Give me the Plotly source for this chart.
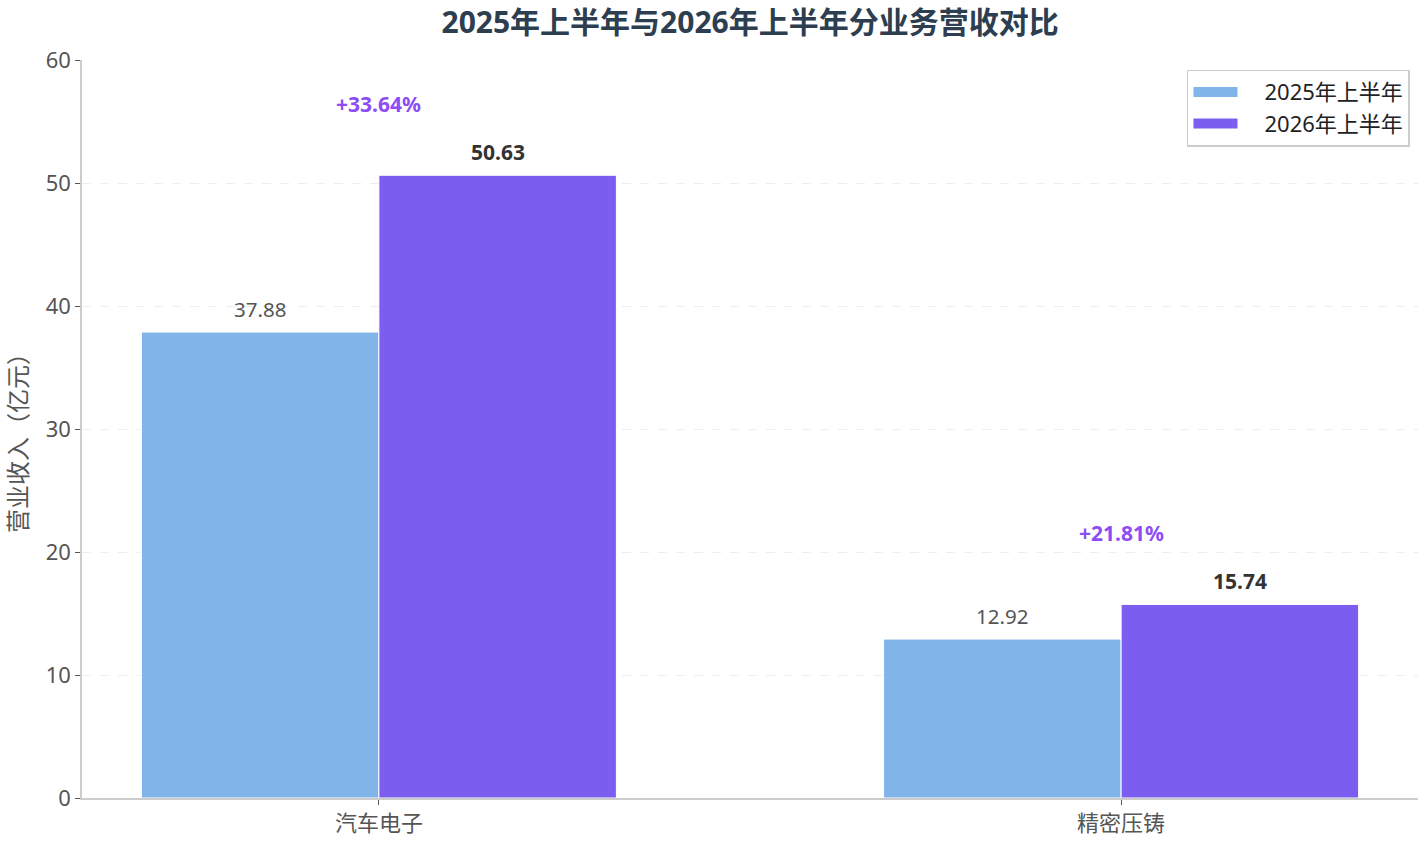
import plotly.graph_objects as go

# Revenue by business segment (unit: 100 million yuan)
categories = ["汽车电子", "精密压铸"]
revenue_2025h1 = [37.88, 12.92]
revenue_2026h1 = [50.63, 15.74]
growth_labels = ["+33.64%", "+21.81%"]
series_names = ["2025年上半年", "2026年上半年"]

FONT = "Noto Sans, Noto Sans CJK SC, sans-serif"
COLOR_2025 = "#81b4e8"
COLOR_2026 = "#7b5eef"
BARGAP = 0.36

fig = go.Figure()

for name, values, color in zip(series_names, [revenue_2025h1, revenue_2026h1], [COLOR_2025, COLOR_2026]):
    fig.add_trace(go.Bar(
        x=categories,
        y=values,
        name=name,
        legendgroup=name,
        showlegend=False,
        marker=dict(color=color, line=dict(color="white", width=1)),
    ))
    # wide swatch for the legend, like the original (en spaces give the gap before the text)
    fig.add_trace(go.Scatter(
        x=[None],
        y=[None],
        mode="lines",
        name="\u2002\u2002" + name,
        legendgroup=name,
        line=dict(color=color, width=13),
    ))

# value labels above each bar, and the growth rate above the newer bar
half = (1 - BARGAP) / 4
for i, cat in enumerate(categories):
    fig.add_annotation(
        x=i - half, y=revenue_2025h1[i],
        text=f"{revenue_2025h1[i]:.2f}",
        showarrow=False, yanchor="middle", yshift=23,
        font=dict(size=20.5, color="#555555", family=FONT),
    )
    fig.add_annotation(
        x=i + half, y=revenue_2026h1[i],
        text=f"<b>{revenue_2026h1[i]:.2f}</b>",
        showarrow=False, yanchor="middle", yshift=23,
        font=dict(size=21, color="#333333", family=FONT),
    )
    fig.add_annotation(
        x=i, y=revenue_2026h1[i],
        text=f"<b>{growth_labels[i]}</b>",
        showarrow=False, yanchor="middle", yshift=71,
        font=dict(size=21, color="#8e4cf5", family=FONT),
    )

# y-axis title placed by hand so it sits close to the window edge
fig.add_annotation(
    text="营业收入（亿元）",
    xref="paper", yref="paper",
    x=0, y=0.5,
    xanchor="center", yanchor="middle",
    xshift=-65, yshift=-8,
    textangle=-90,
    showarrow=False,
    font=dict(size=24, color="#555555", family=FONT),
)

fig.update_layout(
    width=1418,
    height=841,
    margin=dict(l=82, r=0, t=60, b=43),
    paper_bgcolor="white",
    plot_bgcolor="white",
    font=dict(family=FONT, color="#555555"),
    title=dict(
        text="<b>2025年上半年与2026年上半年分业务营收对比</b>",
        x=0.529,
        xanchor="center",
        y=1 - 22 / 841,
        yanchor="middle",
        font=dict(size=30, color="#2c3e50", family=FONT),
    ),
    barmode="group",
    bargap=BARGAP,
    bargroupgap=0,
    legend=dict(
        x=0.994,
        y=0.987,
        xanchor="right",
        yanchor="top",
        bordercolor="#cccccc",
        borderwidth=1.5,
        bgcolor="white",
        font=dict(size=22, color="#222222", family=FONT),
        itemwidth=44,
        tracegroupgap=0,
    ),
)

fig.update_xaxes(
    range=[-0.4, 1.4],
    showline=True,
    linecolor="#cccccc",
    linewidth=1.5,
    ticks="outside",
    ticklen=5,
    tickcolor="#555555",
    tickfont=dict(size=22, color="#555555"),
    showgrid=False,
)

fig.update_yaxes(
    range=[0, 60],
    dtick=10,
    showline=True,
    linecolor="#cccccc",
    linewidth=1.5,
    ticks="outside",
    ticklen=5,
    tickcolor="#555555",
    tickfont=dict(size=22, color="#555555"),
    showgrid=True,
    gridcolor="#eeeeee",
    griddash="dash",
    zeroline=False,
)

# drop the browser's default page margin so the figure fills the window
fig.write_html(
    "out.html",
    config={"displayModeBar": False},
    post_script="document.body.style.margin='0';document.body.style.overflow='hidden';",
)
